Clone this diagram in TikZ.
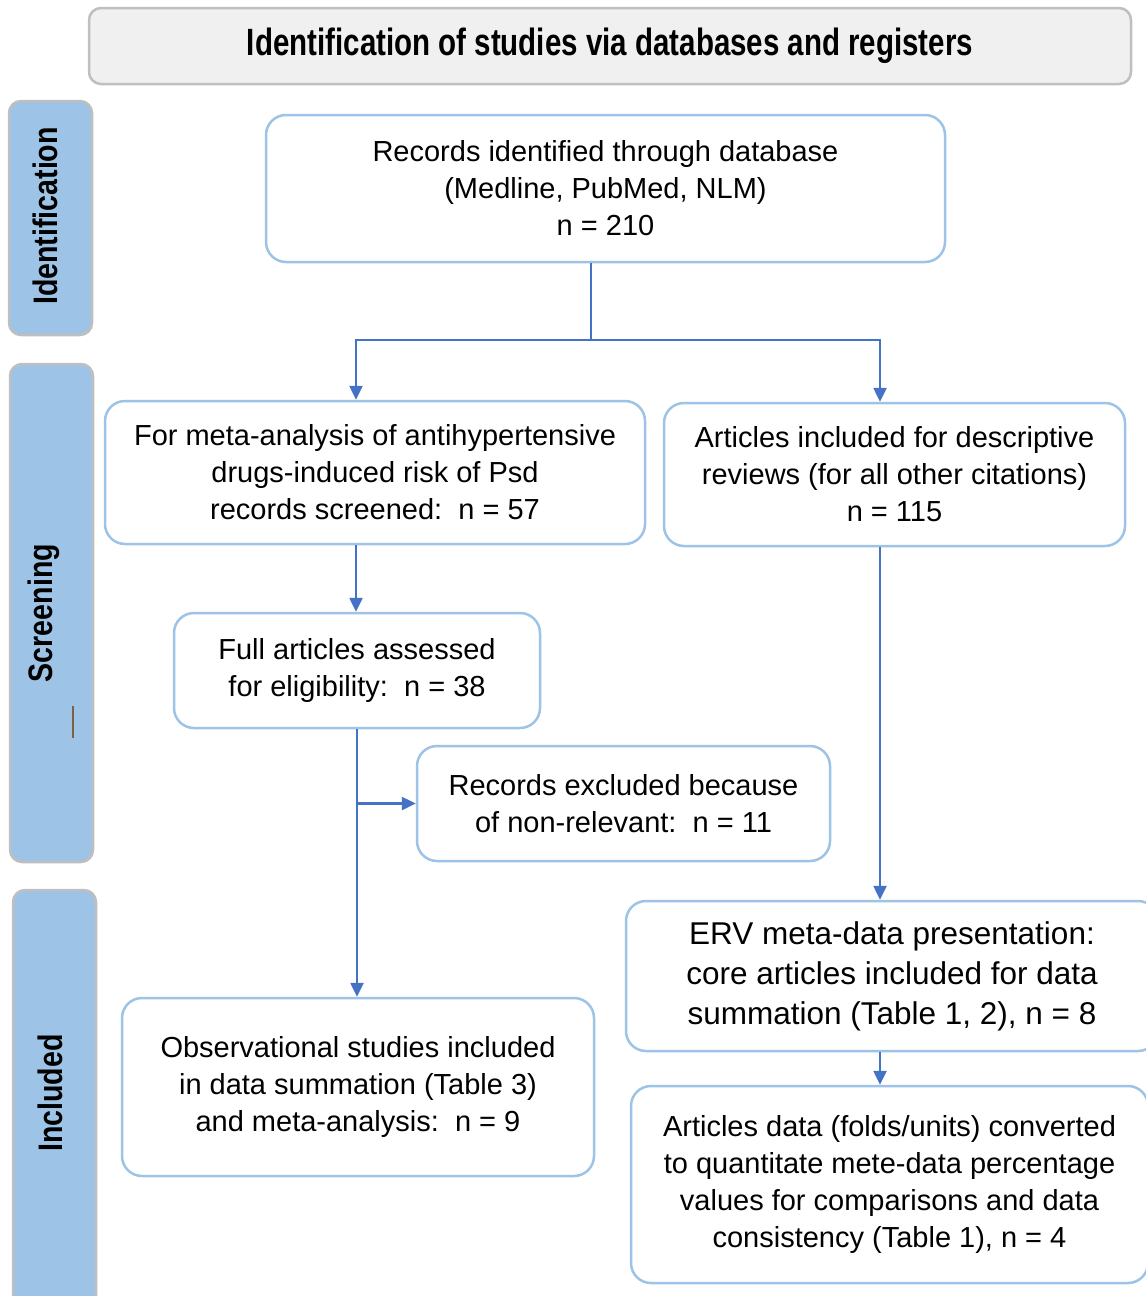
\documentclass[tikz,border=0pt]{standalone}
\usepackage{fontspec}
\setmainfont{Liberation Sans}
\usepackage{graphicx}
\usetikzlibrary{arrows.meta}
\definecolor{boxline}{HTML}{9DC3E6}
\definecolor{barfill}{HTML}{9DC3E6}
\definecolor{bargray}{HTML}{BFBFBF}
\definecolor{headfill}{HTML}{F0F0F0}
\definecolor{arrowblue}{HTML}{4472C4}
\definecolor{brownmark}{HTML}{7F6040}
\tikzset{
  flowbox/.style={draw=boxline, line width=2.5pt, rounded corners=20pt, fill=white,
    align=center, inner sep=0pt, font=\fontsize{29}{37}\selectfont, text=black},
  bigbox/.style={flowbox, font=\fontsize{31.5}{40}\selectfont},
  sidebar/.style={draw=bargray, fill=barfill, line width=2.5pt, rounded corners=12pt},
  sidelabel/.style={rotate=90, font=\fontsize{34}{34}\selectfont\bfseries, inner sep=0pt},
  arr/.style={draw=arrowblue, line width=2.5pt, -{Triangle[width=13pt,length=14pt]}},
  conn/.style={draw=arrowblue, line width=2.5pt},
}
\begin{document}
\begin{tikzpicture}[x=1pt,y=-1pt]
\useasboundingbox (0,0) rectangle (1146,1296);
\clip (0,0) rectangle (1146,1296);
% header
\node[draw=bargray, fill=headfill, line width=2.5pt, rounded corners=12pt,
  minimum width=1042pt, minimum height=76pt, inner sep=0pt] (head) at (610,46)
  {\fontsize{38}{38}\selectfont\bfseries\resizebox{726pt}{\height}{Identification of studies via databases and registers}};
% side bars
\draw[sidebar] (9,101) rectangle (92,335);
\node[sidelabel] (lid) at (45,216) {\scalebox{0.84}[1]{Identification}};
\draw[sidebar] (10,364) rectangle (93,862);
\node[sidelabel] (lsc) at (44,613) {\scalebox{0.84}[1]{Screening}};
\draw[brownmark, line width=1.5pt] (73,706) -- (73,738);
\draw[sidebar] (13,890) rectangle (96,1320);
\node[sidelabel] (lin) at (50,1093) {\scalebox{0.84}[1]{Included}};
% boxes
\node[flowbox, minimum width=679pt, minimum height=147pt] (b1) at (605.5,188.5)
  {Records identified through database\\(Medline, PubMed, NLM)\\n = 210};
\node[flowbox, minimum width=540pt, minimum height=143pt] (b2) at (375,472.5)
  {For meta-analysis of antihypertensive\\drugs-induced risk of Psd\\records screened:\ \ n = 57};
\node[flowbox, minimum width=461pt, minimum height=143pt] (b3) at (894.5,474.5)
  {Articles included for descriptive\\reviews (for all other citations)\\n = 115};
\node[flowbox, minimum width=366pt, minimum height=115pt] (b4) at (357,670.5)
  {Full articles assessed\\for eligibility:\ \ n = 38};
\node[flowbox, minimum width=413pt, minimum height=115pt] (b5) at (623.5,803.5)
  {Records excluded because\\of non-relevant:\ \ n = 11};
\node[flowbox, minimum width=472pt, minimum height=178pt] (b6) at (358,1087)
  {Observational studies included\\in data summation (Table 3)\\and meta-analysis:\ \ n = 9};
\node[bigbox, minimum width=532pt, minimum height=150pt] (b7) at (892,976)
  {ERV meta-data presentation:\\core articles included for data\\summation (Table 1, 2), n = 8};
\node[flowbox, minimum width=517pt, minimum height=197pt] (b8) at (889.5,1184.5)
  {Articles data (folds/units) converted\\to quantitate mete-data percentage\\values for comparisons and data\\consistency (Table 1), n = 4};
% connectors
\coordinate (sp) at (591,340);
\coordinate (lx) at (356,0);
\coordinate (rx) at (880,0);
\draw[conn] (b1.south -| sp) -- (sp);
\draw[arr] (sp) -| (b2.north -| lx);
\draw[arr] (sp) -| (b3.north -| rx);
\draw[arr] (b2.south -| lx) -- (b4.north -| lx);
\draw[arr] (b4.south) -- (b6.north -| b4.south);
\draw[arr] (b4.south |- b5.west) -- (b5.west);
\draw[arr] (b3.south -| rx) -- (b7.north -| rx);
\draw[arr] (b7.south -| rx) -- (b8.north -| rx);
\end{tikzpicture}
\end{document}
